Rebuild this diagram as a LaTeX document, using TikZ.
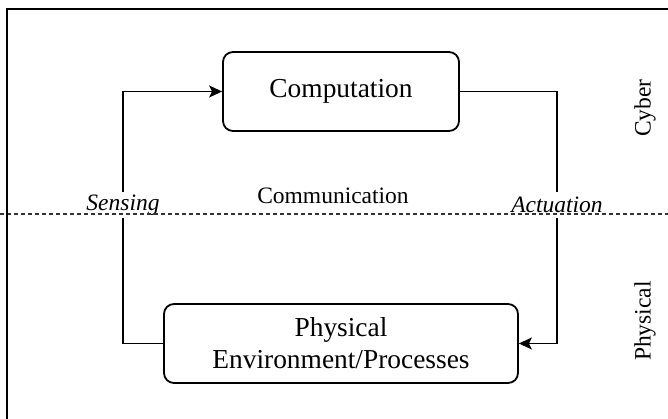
\documentclass[tikz,border=0pt]{standalone}
\usepackage{fontspec}
\setmainfont{Liberation Serif}
\usetikzlibrary{arrows.meta}
\begin{document}
\begin{tikzpicture}[x=1pt,y=-1pt,
  box/.style={draw, line width=1.8pt, rounded corners=10pt, align=center, inner sep=0pt,
    font=\fontsize{27.4}{32}\selectfont},
  conn/.style={line width=1.8pt, -{Stealth[length=13pt,width=12pt,inset=3pt]}},
  lbl/.style={fill=white, inner sep=2pt, font=\fontsize{23.5}{28}\selectfont\itshape},
  side/.style={font=\fontsize{23.5}{28}\selectfont, rotate=90},
  frame/.style={line width=2.2pt}]
\useasboundingbox (0,0) rectangle (668,419);
\node[box, minimum width=236pt, minimum height=79pt] (comp) at (341,91.5) {Computation};
\node[box, minimum width=354pt, minimum height=79pt] (phys) at (341,343.5) {Physical\\Environment/Processes};
\coordinate (sl) at (123,343.5);
\coordinate (su) at (123,91.5);
\coordinate (ar) at (557,91.5);
\coordinate (ad) at (557,343.5);
\draw[conn] (phys.west) -- (sl) -- (su) -- (comp.west);
\draw[conn] (comp.east) -- (ar) -- (ad) -- (phys.east);
\node[lbl, minimum height=26pt] (sens) at (123,205) {Sensing};
\node[lbl, minimum height=26pt] (act) at (557,205) {Actuation};
\node[font=\fontsize{23.5}{28}\selectfont] (comm) at (333,196) {Communication};
\coordinate (dl) at (0,214);
\coordinate (dr) at (668,214);
\draw[line width=1.6pt, black!80, dash pattern=on 4pt off 3pt] (dl) -- (dr);
\node[side] (cyber) at (645,108) {Cyber};
\node[side] (physlbl) at (645,321) {Physical};
\coordinate (f1) at (7,425);
\coordinate (f2) at (7,9);
\coordinate (f3) at (675,9);
\draw[frame] (f1) -- (f2) -- (f3);
\end{tikzpicture}
\end{document}
